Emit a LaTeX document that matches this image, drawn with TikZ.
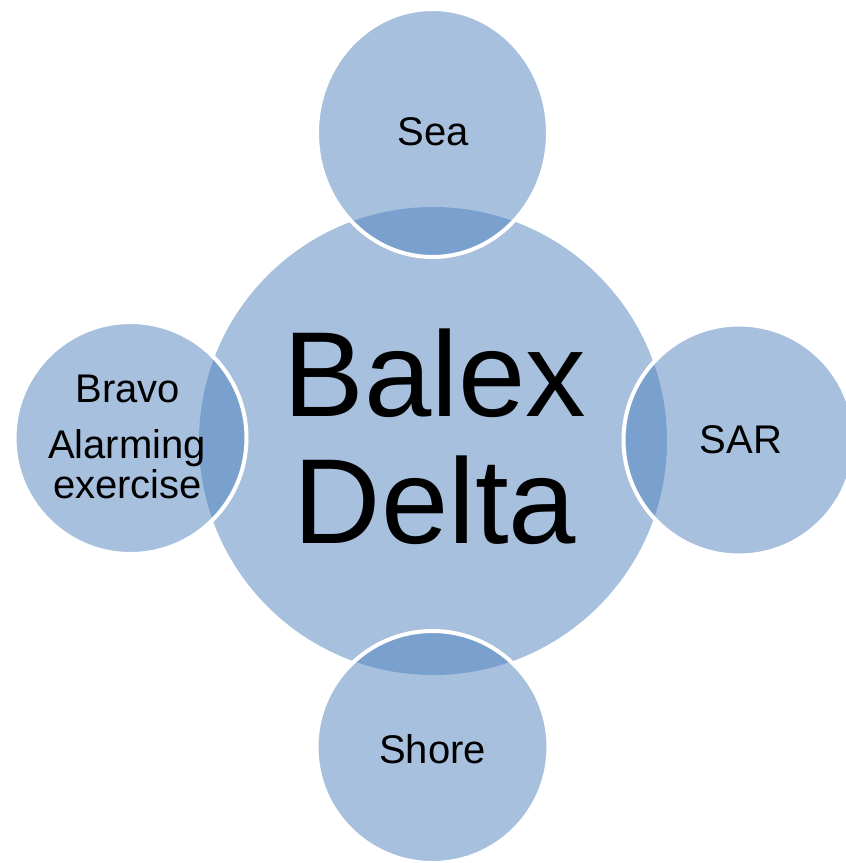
\documentclass[tikz,border=0pt]{standalone}
\usepackage{fontspec}
\setmainfont{Liberation Sans}
\usetikzlibrary{shapes.geometric}
\definecolor{basecol}{HTML}{4F81BD}
\begin{document}
\begin{tikzpicture}[x=1pt,y=-1pt,
  hub/.style={circle, fill=basecol, fill opacity=0.5, draw=none, minimum size=468pt, inner sep=0pt},
  sat/.style={fill=basecol, fill opacity=0.5, draw=white, draw opacity=1, line width=4pt, inner sep=0pt},
  small/.style={anchor=base, inner sep=0pt, font=\fontsize{40}{48}\selectfont},
  big/.style={anchor=base, inner sep=0pt, font=\fontsize{121}{127}\selectfont}]
\useasboundingbox (0,0) rectangle (846,863);
\clip (0,0) rectangle (846,863);
% central circle
\node[hub] (hub) at (433,441) {};
% satellites
\node[sat, ellipse, minimum width=231pt, minimum height=248pt] (sea) at (432.5,133) {};
\node[sat, circle, minimum size=231pt] (sar) at (739,440) {};
\node[sat, circle, minimum size=232pt] (bravo) at (130.5,438) {};
\node[sat, circle, minimum size=232pt] (shore) at (432.5,747) {};
% labels
\node[big] (t1) at (435,416) {Balex};
\node[big] (t2) at (435,543) {Delta};
\node[small] (tsea) at (433,145) {Sea};
\node[small] (tsar) at (741,453) {SAR};
\node[small] (tshore) at (432.5,763) {Shore};
\node[small] (tb1) at (128,402) {Bravo};
\node[small] (tb2) at (127,458) {Alarming};
\node[small] (tb3) at (127.5,498) {exercise};
\end{tikzpicture}
\end{document}
